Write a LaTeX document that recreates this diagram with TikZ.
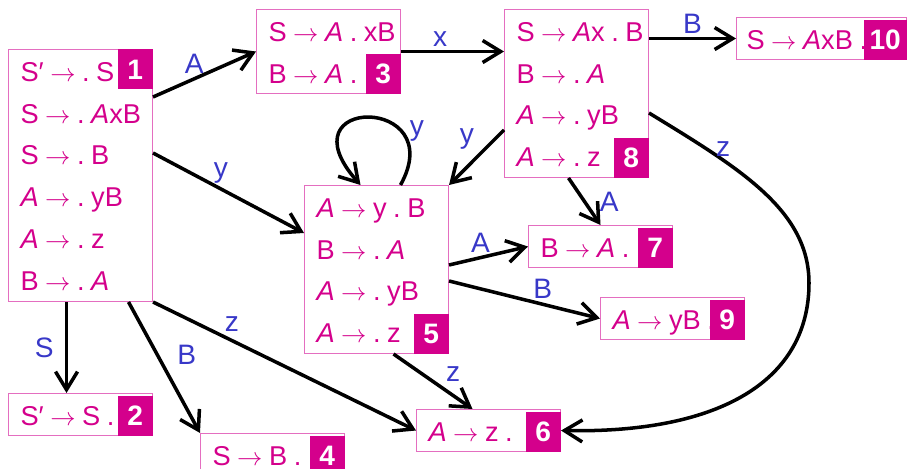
\documentclass[tikz,border=0pt]{standalone}
\usepackage{fontspec}
\setmainfont{Liberation Sans}
\usetikzlibrary{
  arrows.meta,
  calc
}
\definecolor{ink}{HTML}{000000}
\definecolor{item}{HTML}{D4008C}
\definecolor{frame}{HTML}{E46EC0}
\definecolor{badgefill}{HTML}{D4008C}
\definecolor{symblue}{HTML}{3838C8}
\frenchspacing
\newcommand{\nt}[1]{\textit{#1}}
\newcommand{\itemrow}[1]{\rule[-0.21cm]{0pt}{0.84cm}\mbox{\spaceskip=0.24em\relax #1}}
\newcommand{\arr}{$\rightarrow$}
\tikzset{
  state/.style={
    draw=frame,
    fill=white,
    line width=0.6pt,
    text=item,
    align=left,
    text width=2.4cm,
    inner xsep=0.24cm,
    inner ysep=0pt,
    anchor=north west,
    font=\fontsize{15.5}{0.84cm}\selectfont
  },
  badge/.style={
    fill=badgefill,
    text=white,
    minimum width=0.7cm,
    minimum height=0.8cm,
    inner sep=0pt,
    font=\fontsize{16}{18}\selectfont\bfseries
  },
  trans/.style={
    -{Straight Barb[length=3.6mm,width=4.4mm]},
    line width=2pt,
    draw=ink
  },
  sym/.style={
    text=symblue,
    inner sep=2pt,
    font=\fontsize{16}{18}\selectfont
  }
}
\begin{document}
\begin{tikzpicture}[x=0.02cm, y=-0.02cm]
  \useasboundingbox (0,0) rectangle (910,469);

  \node[state] (i1) at (8,49) {\itemrow{S′ \arr{} . S}\\\itemrow{S \arr{} . \nt{A}xB}\\
    \itemrow{S \arr{} . B}\\\itemrow{\nt{A} \arr{} . yB}\\\itemrow{\nt{A} \arr{} . z}\\
    \itemrow{B \arr{} . \nt{A}}};
  \node[badge, anchor=north east] (n1) at (i1.north east) {1};

  \node[state] (i2) at (8,393) {\itemrow{S′ \arr{} S .}};
  \node[badge, anchor=south east] (n2) at (i2.south east) {2};

  \node[state] (i3) at (256,9) {\itemrow{S \arr{} \nt{A} . xB}\\\itemrow{B \arr{} \nt{A} .}};
  \node[badge, anchor=south east] (n3) at (i3.south east) {3};

  \node[state] (i4) at (200,433) {\itemrow{S \arr{} B .}};
  \node[badge, anchor=south east] (n4) at (i4.south east) {4};

  \node[state] (i5) at (304,185) {\itemrow{\nt{A} \arr{} y . B}\\\itemrow{B \arr{} . \nt{A}}\\
    \itemrow{\nt{A} \arr{} . yB}\\\itemrow{\nt{A} \arr{} . z}};
  \node[badge, anchor=south east] (n5) at (i5.south east) {5};

  \node[state] (i6) at (416,409) {\itemrow{\nt{A} \arr{} z .}};
  \node[badge, anchor=south east] (n6) at (i6.south east) {6};

  \node[state] (i7) at (528,225) {\itemrow{B \arr{} \nt{A} .}};
  \node[badge, anchor=south east] (n7) at (i7.south east) {7};

  \node[state] (i8) at (504,9) {\itemrow{S \arr{} \nt{A}x . B}\\\itemrow{B \arr{} . \nt{A}}\\
    \itemrow{\nt{A} \arr{} . yB}\\\itemrow{\nt{A} \arr{} . z}};
  \node[badge, anchor=south east] (n8) at (i8.south east) {8};

  \node[state] (i9) at (600,297) {\itemrow{\nt{A} \arr{} yB .}};
  \node[badge, anchor=south east] (n9) at (i9.south east) {9};

  \node[state, text width=3.0cm, inner xsep=0.2cm] (i10) at (736,17) {\itemrow{S \arr{} \nt{A}xB .}};
  \node[badge, anchor=south east, minimum width=0.86cm] (n10) at (i10.south east) {10};

  \coordinate (bend) at (809,283);

  % transitions out of 1
  \draw[trans] ($(i1.north east)+(0,48)$) -- node[sym, pos=0.4, above] {A} (i3.west);
  \draw[trans] ($(i1.north east)+(0,104)$) -- node[sym, pos=0.45, above] {y}
    ($(i5.north west)+(0,48)$);
  \draw[trans] (i1.south east) -- node[sym, pos=0.3, above=2pt] {z} (i6.west);
  \draw[trans] ($(i1.south)+(-14,0)$) -- node[sym, left=0.15cm] {S}
    ($(i2.north)+(-14,0)$);
  \draw[trans] ($(i1.south)+(48,0)$) -- node[sym, pos=0.4, right=0.3cm] {B} (i4.north west);

  % transitions out of 3 and 8
  \draw[trans] (i3.east) -- node[sym, pos=0.38, above] {x} (i3.east -| i8.west);
  \draw[trans] (i8.east |- i10.west) -- node[sym, above] {B} (i10.west);
  \draw[trans] ($(i8.north west)+(0,121)$) -- node[sym, pos=0.45, above left=0pt] {y}
    (i5.north east);
  \draw[trans] ($(i8.south)+(-8,0)$) -- node[sym, right=0.2cm] {A} (i7.north);
  \draw[trans] ($(i8.north east)+(0,104)$) .. controls +(90,55) and +(0,-73) ..
    node[sym, pos=0.3, above=-1pt] {z} (bend)
    .. controls +(0,97) and +(160,3) .. (i6.east);

  % transitions out of 5
  \draw[trans] ($(i5.north)+(24,0)$) .. controls +(50,-90) and +(-80,-90) ..
    node[sym, pos=0.28, right=2pt] {y} ($(i5.north)+(-16,0)$);
  \draw[trans] ($(i5.north east)+(0,80)$) -- node[sym, pos=0.4, above] {A} (i7.west);
  \draw[trans] ($(i5.north east)+(0,96)$) -- node[sym, pos=0.62, above] {B} (i9.west);
  \draw[trans] ($(i5.south)+(17,0)$) -- node[sym, pos=0.6, above right=0pt] {z}
    ($(i6.north)+(-16,0)$);
\end{tikzpicture}
\end{document}
